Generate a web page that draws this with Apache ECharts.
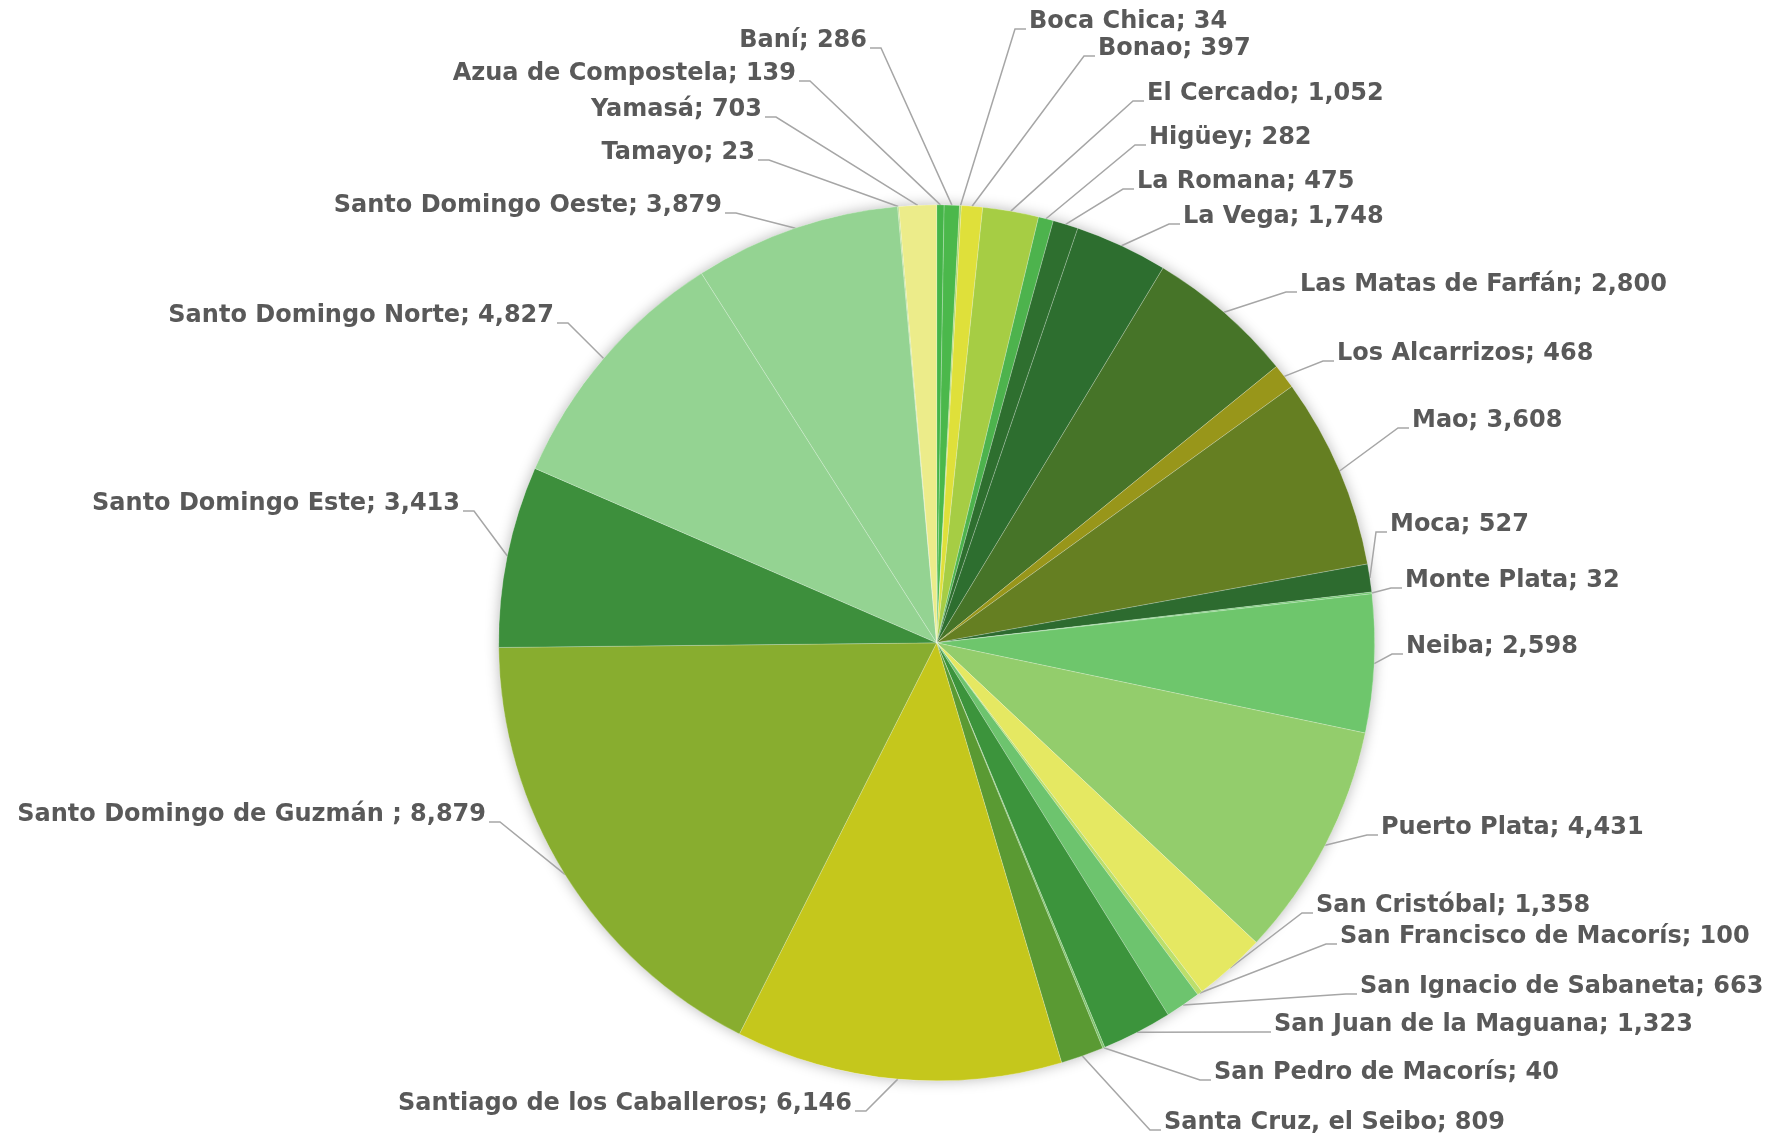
<!DOCTYPE html>
<html>
<head>
<meta charset="utf-8">
<script src="https://cdn.jsdelivr.net/npm/echarts@6/dist/echarts.min.js"></script>
<style>
  html, body { margin: 0; padding: 0; background: #fff; }
  #main { width: 1765px; height: 1138px; }
</style>
</head>
<body>
<div id="main"></div>
<script>
// municipalities, clockwise from 12 o'clock
var names = ['Azua de Compostela', 'Baní', 'Boca Chica', 'Bonao', 'El Cercado', 'Higüey',
  'La Romana', 'La Vega', 'Las Matas de Farfán', 'Los Alcarrizos', 'Mao', 'Moca',
  'Monte Plata', 'Neiba', 'Puerto Plata', 'San Cristóbal', 'San Francisco de Macorís',
  'San Ignacio de Sabaneta', 'San Juan de la Maguana', 'San Pedro de Macorís',
  'Santa Cruz, el Seibo', 'Santiago de los Caballeros', 'Santo Domingo de Guzmán ',
  'Santo Domingo Este', 'Santo Domingo Norte', 'Santo Domingo Oeste', 'Tamayo', 'Yamasá'];
var values = [139, 286, 34, 397, 1052, 282, 475, 1748, 2800, 468, 3608, 527, 32, 2598,
  4431, 1358, 100, 663, 1323, 40, 809, 6146, 8879, 3413, 4827, 3879, 23, 703];

var colors = ['#45b549', '#4bb84b', '#a9d36a', '#dfe03a', '#a6cd44', '#4db34d',
  '#2e6f2f', '#2d6e2f', '#467428', '#98961a', '#657f22', '#2d6b2f',
  '#6ec66c', '#6ec66c', '#93cd6c', '#e5e862', '#bcdf6b',
  '#6dc46e', '#3c943c', '#7cc36a',
  '#5a9a33', '#c5c71c', '#88ad2f',
  '#3d8f3c', '#94d392', '#94d392', '#b5dc8a', '#ecec8a'];

// label anchor [x, y, side] in page pixels (side: 'r' = label right of pie)
var labelPos = [
  [796, 74, 'l'], [867, 41, 'l'], [1029, 22, 'r'], [1098, 49, 'r'], [1147, 94, 'r'],
  [1149, 138, 'r'], [1137, 182, 'r'], [1183, 217, 'r'], [1300, 285, 'r'], [1337, 354, 'r'],
  [1412, 421, 'r'], [1390, 525, 'r'], [1405, 581, 'r'], [1406, 647, 'r'], [1381, 828, 'r'],
  [1316, 906, 'r'], [1340, 937, 'r'], [1360, 987, 'r'], [1274, 1025, 'r'], [1214, 1073, 'r'],
  [1164, 1123, 'r'], [852, 1104, 'l'], [486, 815, 'l'], [460, 504, 'l'], [554, 316, 'l'],
  [722, 206, 'l'], [755, 153, 'l'], [762, 110, 'l']
];

var myChart = echarts.init(document.getElementById('main'));

var pieData = names.map(function (n, i) {
  return { name: n, value: values[i], itemStyle: { color: colors[i] } };
});

option = {
  backgroundColor: '#ffffff',
  animation: false,
  series: [
    {
      // soft shadow under the whole pie
      type: 'pie',
      silent: true,
      center: ['53.07%', '56.49%'],
      radius: 438,
      z: 1,
      label: { show: false },
      labelLine: { show: false },
      itemStyle: { color: '#ffffff', shadowBlur: 14, shadowColor: 'rgba(0,0,0,0.28)' },
      data: [{ value: 1, name: '' }]
    },
    {
      name: 'Municipios',
      type: 'pie',
      z: 2,
      center: ['53.07%', '56.49%'],
      radius: 438,
      startAngle: 90,
      clockwise: true,
      avoidLabelOverlap: false,
      itemStyle: { borderColor: 'rgba(255,255,255,0.35)', borderWidth: 0.6 },
      label: {
        show: true,
        position: 'outside',
        color: '#595959',
        fontFamily: 'DejaVu Sans',
        fontWeight: 'bold',
        fontSize: 24,
        formatter: function (p) {
          return p.name + '; ' + p.value.toLocaleString('en-US');
        }
      },
      labelLine: {
        show: true,
        length: 20,
        length2: 10,
        lineStyle: { color: '#a6a6a6', width: 1.5 }
      },
      labelLayout: function (params) {
        var p = labelPos[params.dataIndex];
        var right = p[2] === 'r';
        var pts = params.labelLinePoints;
        var start = pts && pts[0];
        var ty = p[1] + 7;
        var end = right ? [p[0] - 3, ty] : [p[0] + 3, ty];
        var mid = right ? [p[0] - 14, ty] : [p[0] + 14, ty];
        var out = {
          x: p[0],
          y: p[1],
          align: right ? 'left' : 'right',
          verticalAlign: 'middle'
        };
        if (start) out.labelLinePoints = [start, mid, end];
        return out;
      },
      data: pieData
    }
  ]
};

myChart.setOption(option);
</script>
</body>
</html>
